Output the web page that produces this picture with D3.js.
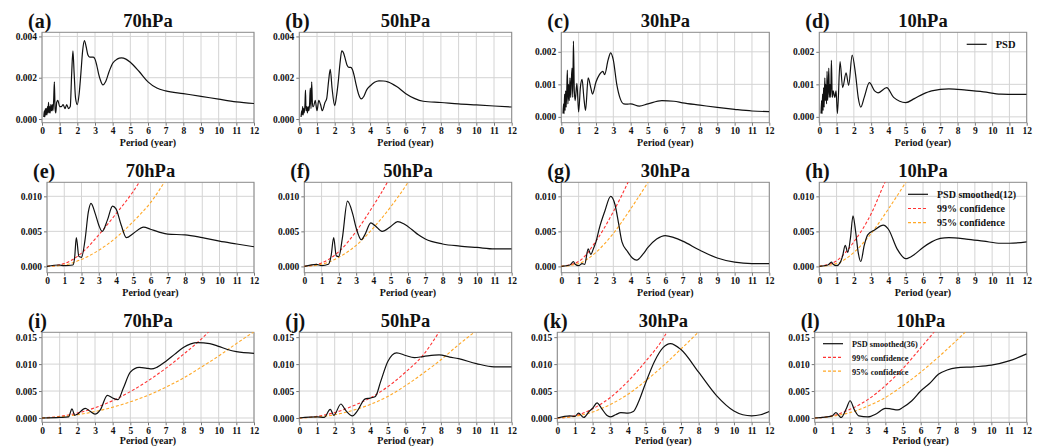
<!DOCTYPE html>
<html><head><meta charset="utf-8">
<script src="https://cdn.jsdelivr.net/npm/d3@7"></script>
<style>
body{margin:0;background:#fff}
svg{display:block}
text{font-family:"Liberation Serif","Times New Roman",serif;font-weight:bold;fill:#111}
</style>
</head><body>
<svg id="chart" width="1043" height="448"></svg>
<script>
// ---------------- DATA ----------------
const xTicks = [0,1,2,3,4,5,6,7,8,9,10,11,12];
const levels = ["70hPa","50hPa","30hPa","10hPa"];
const panelLetters = ["(a)","(b)","(c)","(d)","(e)","(f)","(g)","(h)","(i)","(j)","(k)","(l)"];
const yTicksRow1ab = [0,0.002,0.004];
const yTicksRow1cd = [0,0.001,0.002];
const yTicksRow2 = [0,0.005,0.010];
const yTicksRow3 = [0,0.005,0.010,0.015];

// Row 1: raw PSD  [period, psd]
const psd70 = [[0.1,0.0001],[0.13,0.0004],[0.16,0.0001],[0.19,0.0005],[0.22,0.0002],[0.25,0.0005],[0.28,0.0002],[0.31,0.0006],[0.34,0.0003],[0.37,0.0008],[0.4,0.0003],[0.43,0.0006],[0.46,0.0003],[0.5,0.0007],[0.54,0.0004],[0.58,0.0007],[0.62,0.0004],[0.66,0.0009],[0.7,0.0018],[0.74,0.0005],[0.78,0.0003],[0.83,0.0008],[0.9,0.0009],[1.0,0.0006],[1.1,0.0006],[1.2,0.0007],[1.3,0.0005],[1.4,0.0007],[1.5,0.0005],[1.6,0.0006],[1.68,0.0022],[1.75,0.0033],[1.82,0.0022],[1.9,0.0010],[2.0,0.0007],[2.1,0.0012],[2.2,0.0022],[2.3,0.0033],[2.4,0.0038],[2.5,0.0035],[2.6,0.0031],[2.7,0.0030],[2.8,0.0030],[2.9,0.0030],[3.0,0.0029],[3.1,0.0026],[3.2,0.0022],[3.3,0.0019],[3.45,0.00165],[3.6,0.0018],[3.8,0.0023],[4.0,0.0027],[4.25,0.0029],[4.5,0.00296],[4.75,0.0029],[5.0,0.00275],[5.5,0.0023],[6.0,0.0018],[6.5,0.0015],[7.0,0.00136],[8,0.00123],[9,0.0011],[10,0.00096],[11,0.00083],[12,0.00075]];
const psd50 = [[0.1,0.0001],[0.13,0.0004],[0.16,0.0002],[0.19,0.0006],[0.22,0.0002],[0.25,0.0005],[0.28,0.0003],[0.32,0.0007],[0.35,0.0014],[0.38,0.0004],[0.42,0.0006],[0.46,0.0003],[0.5,0.0006],[0.54,0.0004],[0.58,0.0007],[0.62,0.0015],[0.66,0.0005],[0.7,0.0018],[0.75,0.0006],[0.8,0.0006],[0.9,0.0009],[1.0,0.0004],[1.1,0.0009],[1.2,0.0007],[1.3,0.0004],[1.45,0.0008],[1.55,0.0010],[1.65,0.0018],[1.75,0.0024],[1.85,0.0015],[2.0,0.00065],[2.1,0.0011],[2.2,0.0018],[2.3,0.0027],[2.4,0.0033],[2.5,0.0032],[2.6,0.0029],[2.7,0.0026],[2.8,0.0025],[2.9,0.0025],[3.0,0.0024],[3.1,0.0021],[3.2,0.0017],[3.35,0.0012],[3.5,0.00097],[3.65,0.0011],[3.8,0.0014],[4.0,0.0016],[4.25,0.00178],[4.5,0.00185],[4.75,0.00184],[5.0,0.0018],[5.5,0.00157],[6.0,0.00124],[6.5,0.0010],[7.0,0.00086],[8,0.0008],[9,0.00073],[10,0.00068],[11,0.00063],[12,0.00058]];
const psd30 = [[0.1,0.0001],[0.13,0.0004],[0.16,0.0001],[0.19,0.0007],[0.22,0.0002],[0.25,0.0008],[0.28,0.0003],[0.32,0.0009],[0.35,0.00144],[0.38,0.0004],[0.42,0.0010],[0.46,0.0005],[0.5,0.0012],[0.54,0.0006],[0.58,0.0011],[0.62,0.0015],[0.66,0.0006],[0.7,0.00233],[0.75,0.0008],[0.8,0.0005],[0.9,0.00103],[1.0,0.00015],[1.1,0.0009],[1.2,0.00115],[1.3,0.0006],[1.4,0.0002],[1.55,0.0012],[1.7,0.0009],[1.8,0.0007],[2.0,0.00107],[2.2,0.0013],[2.4,0.0014],[2.5,0.0013],[2.7,0.00175],[2.85,0.00197],[3.0,0.00175],[3.2,0.0010],[3.4,0.00056],[3.6,0.0004],[3.8,0.00039],[4.0,0.0004],[4.5,0.00033],[5.0,0.0004],[5.8,0.0005],[6.5,0.00048],[7,0.00043],[8,0.00036],[9,0.00029],[10,0.00023],[11,0.00018],[12,0.00016]];
const psd10 = [[0.1,0.0001],[0.13,0.0005],[0.16,0.0001],[0.19,0.0007],[0.22,0.0002],[0.25,0.0009],[0.28,0.0003],[0.32,0.0012],[0.35,0.0005],[0.38,0.0010],[0.42,0.0004],[0.45,0.0014],[0.48,0.0005],[0.52,0.0009],[0.55,0.0015],[0.58,0.0006],[0.62,0.0010],[0.66,0.0006],[0.7,0.00174],[0.75,0.0006],[0.8,0.0008],[0.9,0.0006],[0.97,0.0008],[1.05,0.0001],[1.2,0.0017],[1.35,0.0009],[1.55,0.00135],[1.7,0.00097],[1.9,0.0019],[2.1,0.0013],[2.25,0.0006],[2.4,0.0003],[2.6,0.0006],[2.9,0.00105],[3.2,0.0008],[3.4,0.00074],[3.9,0.0009],[4.3,0.0006],[5.0,0.00044],[5.5,0.00056],[6,0.0007],[6.5,0.0008],[7.5,0.00086],[8.5,0.00082],[9.5,0.00077],[10.5,0.0007],[12,0.00069]];

// Row 2: PSD smoothed(12)
const sm12_70 = [[0,0],[0.7,0.0002],[1.0,0.0001],[1.5,0.0002],[1.6,0.0012],[1.7,0.0041],[1.85,0.0014],[2.0,0.0013],[2.2,0.0037],[2.4,0.0078],[2.55,0.0090],[2.8,0.0075],[3.0,0.0059],[3.2,0.0050],[3.5,0.0066],[3.8,0.0086],[4.0,0.0082],[4.3,0.0059],[4.6,0.0041],[5.0,0.0047],[5.6,0.0056],[6.0,0.0053],[6.5,0.0049],[7,0.0046],[8,0.0045],[9,0.0041],[10,0.0036],[11,0.0032],[12,0.0028]];
const sm12_50 = [[0,0],[0.7,0.0003],[1.0,0.0001],[1.4,0.0003],[1.55,0.0015],[1.7,0.0041],[1.85,0.0015],[2.0,0.0014],[2.2,0.0040],[2.5,0.0093],[2.8,0.0075],[3.0,0.0055],[3.3,0.0038],[3.5,0.0045],[3.85,0.0062],[4.1,0.0058],[4.5,0.0050],[5.0,0.0057],[5.4,0.0064],[5.8,0.0060],[6.2,0.0053],[6.6,0.0045],[7.0,0.0039],[8,0.0032],[9,0.0029],[10,0.0027],[11,0.0025],[12,0.0025]];
const sm12_30 = [[0,0],[0.5,0.0002],[0.7,0.0007],[0.8,0.0003],[1.0,0.0001],[1.2,0.0004],[1.35,0.0003],[1.55,0.0025],[1.7,0.0017],[1.85,0.0025],[2.0,0.0035],[2.2,0.0055],[2.5,0.0078],[2.85,0.0100],[3.1,0.0088],[3.3,0.0062],[3.5,0.0035],[3.8,0.0022],[4.1,0.0012],[4.35,0.0009],[4.7,0.0017],[5.0,0.0027],[5.5,0.0039],[6.0,0.0044],[6.5,0.0041],[7.0,0.0036],[8,0.0023],[9,0.0012],[10,0.0006],[11,0.0004],[12,0.0004]];
const sm12_10 = [[0,0],[0.5,0.0002],[0.7,0.0006],[0.8,0.0003],[1.0,0.0001],[1.2,0.0005],[1.35,0.0015],[1.5,0.0030],[1.65,0.0020],[1.8,0.0040],[1.95,0.0072],[2.1,0.0050],[2.25,0.0020],[2.4,0.0007],[2.6,0.0030],[2.8,0.0045],[3.2,0.0052],[3.7,0.0059],[4.0,0.0053],[4.5,0.0025],[5.0,0.0011],[5.5,0.0017],[6.0,0.0027],[6.5,0.0035],[7.0,0.0040],[7.5,0.0041],[8.5,0.0039],[9.5,0.0036],[10.5,0.0033],[11,0.0033],[12,0.0035]];
const c99_12_70 = [[0,0],[1,0.0004],[2,0.0019],[3,0.0045],[4,0.0075],[5,0.0107],[5.6,0.0130]];
const c95_12_70 = [[0,0],[1,0.0002],[2,0.0010],[3,0.0023],[4,0.0041],[5,0.0064],[6,0.0091],[7,0.0128]];
const c99_12_50 = [[0,0],[1,0.0005],[2,0.0021],[3,0.0050],[4,0.0087],[4.8,0.0120],[5,0.0130]];
const c95_12_50 = [[0,0],[1,0.0003],[2,0.0013],[3,0.0030],[4,0.0055],[5,0.0085],[6,0.0120],[6.2,0.0128]];
const c99_12_30 = [[0,0],[1,0.0007],[2,0.0036],[3,0.0078],[3.85,0.0120],[4,0.0128]];
const c95_12_30 = [[0,0],[1,0.0004],[2,0.0020],[3,0.0047],[4,0.0082],[5,0.0120],[5.2,0.0128]];
const c99_12_10 = [[0,0],[1,0.0008],[2,0.0035],[3,0.0075],[3.8,0.0120],[4,0.0130]];
const c95_12_10 = [[0,0],[1,0.0004],[2,0.0020],[3,0.0047],[4,0.0082],[5,0.0120],[5.2,0.0128]];

// Row 3: PSD smoothed(36)
const sm36_70 = [[0,0],[1,0.0001],[1.5,0.0002],[1.7,0.0017],[1.85,0.0005],[2.0,0.0007],[2.45,0.0018],[2.7,0.0013],[3.0,0.0007],[3.3,0.0015],[3.7,0.0042],[4.0,0.0037],[4.3,0.0034],[4.6,0.0055],[5.0,0.0085],[5.5,0.0094],[6.0,0.0092],[6.2,0.0091],[6.5,0.0094],[7.0,0.0105],[7.5,0.0118],[8.0,0.0131],[8.8,0.0140],[9.5,0.0138],[10,0.0133],[10.5,0.0127],[11,0.0123],[12,0.0120]];
const sm36_50 = [[0,0],[1,0.0002],[1.4,0.0001],[1.75,0.0016],[1.95,0.0005],[2.35,0.0026],[2.6,0.0015],[3.0,0.0004],[3.3,0.0014],[3.7,0.0035],[4.0,0.0037],[4.3,0.0040],[4.6,0.0068],[5.0,0.0105],[5.5,0.0121],[6.0,0.0116],[6.5,0.0112],[7.0,0.0114],[7.9,0.0117],[8.5,0.0113],[9,0.0110],[10,0.0101],[11,0.0095],[12,0.0095]];
const sm36_30 = [[0,0],[0.7,0.0004],[1.0,0.0003],[1.2,0.0009],[1.5,0.0001],[1.8,0.0012],[2.0,0.0018],[2.25,0.0028],[2.5,0.0018],[2.8,0.0005],[3.0,0.0002],[3.3,0.0006],[3.6,0.0010],[4.0,0.0009],[4.3,0.0012],[4.6,0.0030],[5.0,0.0065],[5.5,0.0105],[6.0,0.0131],[6.4,0.0138],[7.0,0.0127],[8.0,0.0085],[9.0,0.0042],[10,0.0013],[10.5,0.0006],[11,0.0004],[11.5,0.0006],[12,0.0012]];
const sm36_10 = [[0,0],[1.0,0.0004],[1.2,0.0010],[1.5,0.0001],[1.8,0.0018],[2.0,0.0032],[2.25,0.0015],[2.5,0.0004],[3.0,0.0002],[3.5,0.0008],[4.0,0.0018],[4.3,0.0017],[4.7,0.0015],[5.0,0.0020],[5.5,0.0032],[6.0,0.0050],[6.5,0.0064],[7.0,0.0081],[7.5,0.0089],[8.0,0.0093],[9.0,0.0095],[10,0.0098],[11,0.0106],[12,0.0119]];
const c99_36_70 = [[0,0],[1,0.0003],[2,0.0009],[3,0.0019],[4,0.0032],[5,0.0049],[6,0.0069],[7,0.0092],[8,0.0118],[9,0.0146],[9.5,0.0162]];
const c95_36_70 = [[0,0],[1,0.0002],[2,0.0006],[3,0.0012],[4,0.0020],[5,0.0030],[6,0.0042],[7,0.0057],[8,0.0074],[9,0.0094],[10,0.0115],[11,0.0138],[12,0.0160]];
const c99_36_50 = [[0,0],[1,0.0003],[2,0.0010],[3,0.0022],[4,0.0037],[5,0.0058],[6,0.0085],[7,0.0117],[8,0.0165]];
const c95_36_50 = [[0,0],[1,0.0002],[2,0.0006],[3,0.0014],[4,0.0025],[5,0.0040],[6,0.0060],[7,0.0083],[8,0.0108],[9,0.0136],[10,0.0162]];
const c99_36_30 = [[0,0],[1,0.0004],[2,0.0017],[3,0.0038],[4,0.0068],[5,0.0105],[6,0.0148],[6.3,0.0165]];
const c95_36_30 = [[0,0],[1,0.0003],[2,0.0011],[3,0.0025],[4,0.0044],[5,0.0069],[6,0.0097],[7,0.0128],[8,0.0160],[8.2,0.0167]];
const c99_36_10 = [[0,0],[1,0.0004],[2,0.0016],[3,0.0034],[4,0.0060],[5,0.0092],[6,0.0130],[7,0.0169]];
const c95_36_10 = [[0,0],[1,0.0003],[2,0.0010],[3,0.0022],[4,0.0038],[5,0.0060],[6,0.0085],[7,0.0113],[8,0.0143],[8.8,0.0168]];

// ---------------- LAYOUT ----------------
const rowTop = [32.3, 182.3, 332.3];
const rowBottom = [122.7, 272.7, 422.3];
const labelOffset = [23, 23, 22];
const colLeft = [[42,299.3,561.3,819.3],[47,304.3,561.3,819.3],[42,299.3,557.3,814.7]];
const colRight = [254,511.7,769.3,1026.7];
const yDomains = [[[-0.00018,0.0042],[-0.00018,0.0042],[-0.00018,0.0026],[-0.00018,0.0026]],
                  [[-0.0009,0.012],[-0.0009,0.012],[-0.0009,0.012],[-0.0009,0.012]],
                  [[-0.0008,0.0159],[-0.0008,0.0159],[-0.0008,0.0159],[-0.0008,0.0159]]];
const yTickSets = [[yTicksRow1ab,yTicksRow1ab,yTicksRow1cd,yTicksRow1cd],
                   [yTicksRow2,yTicksRow2,yTicksRow2,yTicksRow2],
                   [yTicksRow3,yTicksRow3,yTicksRow3,yTicksRow3]];
const rowData = [
  [{k:psd70},{k:psd50},{k:psd30},{k:psd10}],
  [{k:sm12_70,r:c99_12_70,o:c95_12_70},{k:sm12_50,r:c99_12_50,o:c95_12_50},{k:sm12_30,r:c99_12_30,o:c95_12_30},{k:sm12_10,r:c99_12_10,o:c95_12_10}],
  [{k:sm36_70,r:c99_36_70,o:c95_36_70},{k:sm36_50,r:c99_36_50,o:c95_36_50},{k:sm36_30,r:c99_36_30,o:c95_36_30},{k:sm36_10,r:c99_36_10,o:c95_36_10}]
];

const RED = "#ff3333", ORANGE = "#ffa826";
const svg = d3.select("#chart");
const defs = svg.append("defs");

for (let r=0;r<3;r++){
  for (let c=0;c<4;c++){
    const L = colLeft[r][c], R = colRight[c], T = rowTop[r], B = rowBottom[r];
    const x = d3.scaleLinear().domain([0,12]).range([L,R]);
    const y = d3.scaleLinear().domain(yDomains[r][c]).range([B,T]);
    const g = svg.append("g");
    const id = "clip"+r+"_"+c;
    defs.append("clipPath").attr("id",id).append("rect").attr("x",L).attr("y",T).attr("width",R-L).attr("height",B-T);

    // grid
    g.append("g").selectAll("line").data(xTicks).join("line")
      .attr("x1",d=>x(d)).attr("x2",d=>x(d)).attr("y1",T).attr("y2",B)
      .attr("stroke","#d4d4d4").attr("stroke-width",1);
    g.append("g").selectAll("line").data(yTickSets[r][c]).join("line")
      .attr("x1",L).attr("x2",R).attr("y1",d=>y(d)).attr("y2",d=>y(d))
      .attr("stroke","#d4d4d4").attr("stroke-width",1);

    // axes
    const xa = g.append("g").attr("transform",`translate(0,${B})`)
      .call(d3.axisBottom(x).tickValues(xTicks).tickFormat(d3.format("d")).tickSize(3).tickPadding(2));
    const ya = g.append("g").attr("transform",`translate(${L},0)`)
      .call(d3.axisLeft(y).tickValues(yTickSets[r][c]).tickFormat(d3.format(".3f")).tickSize(3).tickPadding(2));
    [xa,ya].forEach(a=>{
      a.select(".domain").remove();
      a.selectAll(".tick line").attr("stroke","#777");
      a.selectAll("text").attr("font-size",9.5).attr("fill","#111").style("font-family","'Liberation Serif',serif").style("font-weight","bold");
    });

    // frame
    g.append("rect").attr("x",L).attr("y",T).attr("width",R-L).attr("height",B-T)
      .attr("fill","none").attr("stroke","#8a8a8a").attr("stroke-width",1);

    const line = d3.line().x(d=>x(d[0])).y(d=>y(d[1])).curve(d3.curveMonotoneX);
    const D = rowData[r][c];
    const pg = g.append("g").attr("clip-path",`url(#${id})`);
    if (D.r) pg.append("path").attr("d",line(D.r)).attr("fill","none").attr("stroke",RED).attr("stroke-width",1.1).attr("stroke-dasharray","3,2");
    if (D.o) pg.append("path").attr("d",line(D.o)).attr("fill","none").attr("stroke",ORANGE).attr("stroke-width",1.1).attr("stroke-dasharray","3,2");
    pg.append("path").attr("d",line(D.k)).attr("fill","none").attr("stroke","#111").attr("stroke-width",1.2);

    // titles
    g.append("text").attr("x",(L+R)/2).attr("y",T-5).attr("text-anchor","middle").attr("font-size",18.5).text(levels[c]);
    g.append("text").attr("x",L-14).attr("y",T-4).attr("font-size",20).text(panelLetters[r*4+c]);
    g.append("text").attr("x",(L+R)/2).attr("y",B+labelOffset[r]).attr("text-anchor","middle").attr("font-size",10).text("Period (year)");
  }
}

// legends
function legend(x0,y0,dy,fs,items){
  const lg = svg.append("g");
  items.forEach((it,i)=>{
    const yy = y0 + i*dy;
    lg.append("line").attr("x1",x0).attr("x2",x0+20).attr("y1",yy).attr("y2",yy)
      .attr("stroke",it.color).attr("stroke-width",1.2).attr("stroke-dasharray",it.dash||null);
    lg.append("text").attr("x",x0+29).attr("y",yy+3.5).attr("font-size",fs).text(it.label);
  });
}
legend(966.7,44.3,14,10.5,[{color:"#111",label:"PSD"}]);
legend(908,194.3,14.2,10,[{color:"#111",label:"PSD smoothed(12)"},{color:RED,dash:"3,2",label:"99% confidence"},{color:ORANGE,dash:"3,2",label:"95% confidence"}]);
legend(823,343.7,13.7,8.3,[{color:"#111",label:"PSD smoothed(36)"},{color:RED,dash:"3,2",label:"99% confidence"},{color:ORANGE,dash:"3,2",label:"95% confidence"}]);
</script>
</body></html>
